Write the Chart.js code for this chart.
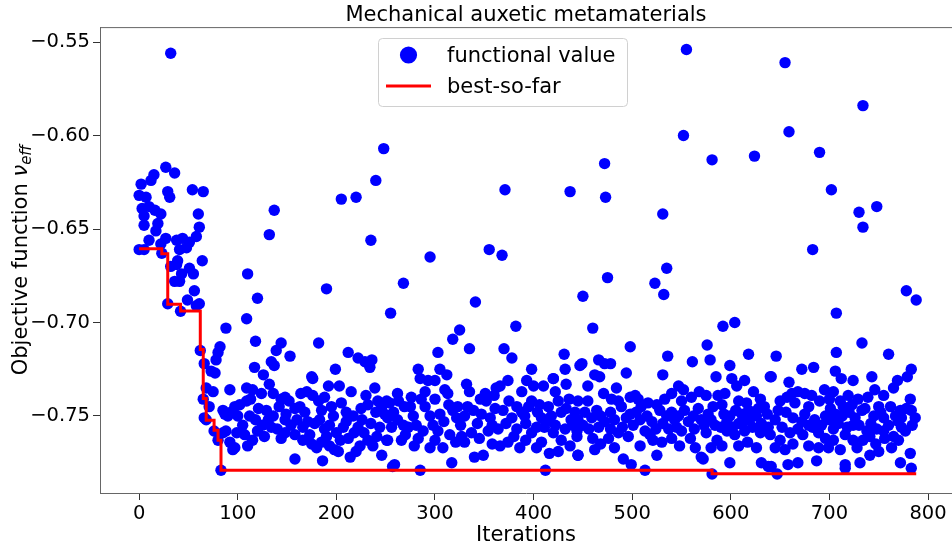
<!DOCTYPE html>
<html>
<head>
<meta charset="utf-8">
<script src="https://cdn.jsdelivr.net/npm/chart.js@4.4.1/dist/chart.umd.min.js"></script>
<style>
  html, body { margin: 0; padding: 0; background: #fff; }
  #wrap { width: 952px; height: 548px; }
</style>
</head>
<body>
<div id="wrap"><canvas id="myChart" width="952" height="548"></canvas></div>
<script>
// labels
const chartTitle = "Mechanical auxetic metamaterials";
const xAxisTitle = "Iterations";
const legendLabels = ["functional value", "best-so-far"];

// tick values
const xTicks = [0, 100, 200, 300, 400, 500, 600, 700, 800];
const yTicks = [-0.75, -0.70, -0.65, -0.60, -0.55];

// best-so-far steps (iteration, value)
const bestIter = [0, 23, 29, 42, 62, 65, 68, 76, 80, 83, 581, 788];
const bestValue = [-0.6605, -0.6632, -0.6903, -0.6939, -0.7145, -0.7407, -0.7523, -0.7577, -0.7630, -0.7790, -0.7809, -0.7809];

// functional value per evaluated design [iteration, value]
const evaluations = [
  // first iterations
  [32,-0.556],[27,-0.617],[36,-0.620],[15,-0.621],[12,-0.624],[2,-0.626],[0,-0.632],[7,-0.633],[29,-0.630],[31,-0.633],
  [54,-0.629],[65,-0.630],[3,-0.639],[10,-0.638],[16,-0.640],[22,-0.642],[5,-0.643],[60,-0.642],[5,-0.648],[19,-0.647],
  [61,-0.649],[17,-0.651],[58,-0.654],[10,-0.656],[27,-0.655],[38,-0.656],[44,-0.655],[51,-0.657],[0,-0.661],[5,-0.661],
  [22,-0.658],[41,-0.661],[48,-0.660],[23,-0.663],[39,-0.667],[64,-0.667],[32,-0.670],[38,-0.669],[51,-0.671],[43,-0.674],
  [55,-0.674],[36,-0.678],[41,-0.678],[56,-0.683],[29,-0.690],[49,-0.688],[42,-0.694],[61,-0.690],[58,-0.691],
  [88,-0.703],[62,-0.715],[82,-0.713],[80,-0.716],[78,-0.720],[66,-0.722],[73,-0.726],[77,-0.727],[68,-0.735],[75,-0.737],
  [65,-0.741],[92,-0.736],[71,-0.745],[68,-0.752],[76,-0.758],[80,-0.763],[85,-0.759],[95,-0.768],[97,-0.745],[87,-0.749],
  [102,-0.744],[105,-0.755],[109,-0.735],[110,-0.674],[109,-0.698],[83,-0.779],
  // 100 - 260
  [120,-0.687],[118,-0.710],[137,-0.640],[132,-0.653],[190,-0.682],[205,-0.634],[220,-0.633],[240,-0.624],[248,-0.607],[235,-0.656],
  [255,-0.695],[182,-0.711],[144,-0.711],[139,-0.715],[153,-0.718],[117,-0.724],[134,-0.721],[137,-0.723],[126,-0.728],[132,-0.733],
  [175,-0.729],[199,-0.725],[212,-0.716],[222,-0.719],[236,-0.720],[234,-0.724],[239,-0.735],[192,-0.734],[203,-0.734],
  [229,-0.721],[176,-0.730],[115,-0.736],[124,-0.738],[136,-0.738],[148,-0.740],[164,-0.738],[170,-0.737],[176,-0.739],[215,-0.737],
  [230,-0.739],[242,-0.742],[251,-0.742],[85,-0.747],[109,-0.742],[121,-0.746],[129,-0.747],[142,-0.745],[149,-0.749],[158,-0.746],
  [163,-0.745],[168,-0.748],[185,-0.747],[195,-0.745],[205,-0.743],[210,-0.748],[217,-0.750],[225,-0.746],[232,-0.744],[249,-0.749],
  [90,-0.750],[93,-0.748],[66,-0.751],[136,-0.750],[148,-0.752],[154,-0.755],[171,-0.753],[178,-0.754],[193,-0.755],[210,-0.753],
  [222,-0.756],[235,-0.754],[244,-0.756],[252,-0.751],[88,-0.758],[99,-0.759],[107,-0.760],[115,-0.763],[127,-0.761],[134,-0.756],
  [148,-0.759],[158,-0.760],[173,-0.760],[175,-0.765],[180,-0.767],[190,-0.761],[193,-0.766],[198,-0.768],[202,-0.769],[212,-0.762],
  [214,-0.772],[224,-0.766],[232,-0.763],[237,-0.766],[246,-0.771],[251,-0.763],[97,-0.767],[110,-0.766],[92,-0.764],[158,-0.773],
  [186,-0.774],[257,-0.777],
  [112,-0.750],[118,-0.752],[125,-0.755],[131,-0.752],[140,-0.757],[144,-0.741],[152,-0.742],[160,-0.752],[166,-0.756],[183,-0.752],
  [188,-0.757],[197,-0.750],[200,-0.759],[207,-0.756],[218,-0.759],[226,-0.752],[240,-0.748],[246,-0.745],[182,-0.742],[188,-0.740],
  [113,-0.741],[100,-0.750],[120,-0.758],[144,-0.762],[166,-0.763],[185,-0.764],[204,-0.763],[220,-0.769],[228,-0.759],[241,-0.761],
  // 260 - 450
  [325,-0.704],[318,-0.709],[382,-0.702],[303,-0.716],[335,-0.714],[370,-0.714],[378,-0.719],[431,-0.717],[447,-0.723],[283,-0.725],
  [305,-0.725],[312,-0.728],[398,-0.725],[432,-0.725],[285,-0.730],[293,-0.731],[300,-0.731],[332,-0.733],[374,-0.731],[393,-0.731],
  [420,-0.730],[433,-0.733],[290,-0.737],[310,-0.736],[313,-0.738],[335,-0.737],[351,-0.738],[362,-0.735],[366,-0.734],[388,-0.737],
  [400,-0.734],[410,-0.734],[422,-0.737],[254,-0.743],[263,-0.742],[269,-0.745],[286,-0.741],[300,-0.741],[318,-0.747],[323,-0.745],
  [339,-0.747],[352,-0.742],[361,-0.746],[369,-0.747],[383,-0.745],[388,-0.748],[398,-0.742],[406,-0.744],[415,-0.745],[425,-0.742],
  [433,-0.746],[442,-0.748],[278,-0.750],[295,-0.750],[305,-0.749],[322,-0.751],[330,-0.750],[347,-0.749],[356,-0.751],[378,-0.751],
  [391,-0.750],[408,-0.751],[418,-0.750],[438,-0.752],[256,-0.756],[273,-0.756],[288,-0.758],[303,-0.758],[315,-0.760],[327,-0.761],
  [337,-0.759],[354,-0.758],[364,-0.757],[383,-0.757],[398,-0.759],[411,-0.756],[420,-0.759],[432,-0.757],[444,-0.761],[252,-0.763],
  [266,-0.763],[279,-0.766],[295,-0.767],[308,-0.767],[330,-0.764],[340,-0.772],[349,-0.771],[366,-0.766],[386,-0.767],[408,-0.764],
  [416,-0.770],[425,-0.769],[445,-0.771],[259,-0.776],[285,-0.779],[317,-0.775],[412,-0.779],
  [371,-0.629],[355,-0.661],[368,-0.664],[295,-0.665],[268,-0.679],[341,-0.689],
  [258,-0.748],[262,-0.752],[268,-0.755],[275,-0.745],[281,-0.755],[290,-0.745],[298,-0.755],[309,-0.753],[314,-0.744],[326,-0.755],
  [333,-0.745],[343,-0.754],[346,-0.741],[358,-0.755],[360,-0.739],[372,-0.754],[375,-0.742],[380,-0.761],[392,-0.754],[395,-0.745],
  [403,-0.756],[404,-0.748],[413,-0.753],[422,-0.755],[428,-0.748],[436,-0.741],[440,-0.755],[270,-0.760],[283,-0.762],[300,-0.763],
  [321,-0.764],[345,-0.762],[358,-0.765],[374,-0.764],[392,-0.763],[403,-0.767],[428,-0.763],[437,-0.766],[262,-0.738],[276,-0.740],
  // 450 - 640
  [555,-0.554],[552,-0.600],[472,-0.615],[437,-0.630],[473,-0.633],[531,-0.642],[535,-0.671],[523,-0.679],[532,-0.685],[475,-0.676],
  [450,-0.686],[460,-0.703],[498,-0.713],[466,-0.720],[472,-0.722],[478,-0.722],[494,-0.727],[536,-0.718],[531,-0.728],[561,-0.721],
  [420,-0.730],[462,-0.728],[467,-0.729],[449,-0.722],
  [592,-0.702],[604,-0.700],[576,-0.712],[618,-0.717],[579,-0.720],[599,-0.723],[640,-0.729],[585,-0.729],[601,-0.730],[614,-0.731],
  [455,-0.734],[484,-0.735],[503,-0.739],[506,-0.741],[547,-0.734],[552,-0.736],[568,-0.737],[575,-0.739],[587,-0.739],[594,-0.738],
  [606,-0.734],[623,-0.737],[630,-0.741],[445,-0.742],[455,-0.742],[471,-0.738],[479,-0.741],[486,-0.742],[525,-0.744],[533,-0.741],
  [550,-0.742],[591,-0.744],[608,-0.742],[618,-0.747],[628,-0.746],[452,-0.748],[464,-0.747],[489,-0.745],[498,-0.749],[509,-0.745],
  [528,-0.747],[540,-0.748],[547,-0.750],[567,-0.746],[577,-0.749],[599,-0.750],[611,-0.749],[626,-0.750],[637,-0.749],[445,-0.752],
  [459,-0.751],[472,-0.753],[482,-0.752],[494,-0.751],[508,-0.752],[520,-0.753],[531,-0.754],[543,-0.752],[557,-0.753],[570,-0.752],
  [584,-0.755],[596,-0.753],[608,-0.754],[619,-0.752],[631,-0.754],[444,-0.758],[460,-0.762],[476,-0.762],[486,-0.759],[496,-0.761],
  [513,-0.758],[518,-0.760],[521,-0.763],[540,-0.762],[559,-0.762],[575,-0.759],[586,-0.763],[596,-0.758],[604,-0.760],[614,-0.758],
  [630,-0.759],[462,-0.768],[508,-0.766],[525,-0.771],[564,-0.767],[591,-0.766],[608,-0.766],[626,-0.767],[445,-0.771],[491,-0.773],
  [499,-0.776],[570,-0.772],[599,-0.775],[631,-0.775],[513,-0.779],[581,-0.781],[638,-0.777],[572,-0.773],
  [450,-0.755],[456,-0.757],[466,-0.756],[468,-0.750],[478,-0.748],[478,-0.757],[490,-0.756],[501,-0.755],[504,-0.748],[515,-0.750],
  [516,-0.743],[524,-0.757],[535,-0.750],[537,-0.757],[545,-0.756],[550,-0.758],[553,-0.747],[562,-0.750],[563,-0.757],[573,-0.755],
  [580,-0.752],[582,-0.745],[590,-0.756],[593,-0.749],[602,-0.756],[605,-0.747],[613,-0.753],[616,-0.743],[622,-0.756],[624,-0.748],
  [634,-0.745],[468,-0.765],[482,-0.767],[530,-0.764],[548,-0.766],[580,-0.767],[617,-0.764],[560,-0.740],[540,-0.738],[498,-0.740],
  // 640 - 790
  [655,-0.561],[659,-0.598],[581,-0.613],[624,-0.611],[690,-0.609],[702,-0.629],[683,-0.661],[707,-0.695],[646,-0.718],[684,-0.724],
  [707,-0.716],[672,-0.725],[706,-0.726],[712,-0.730],[641,-0.729],[659,-0.732],
  [733,-0.711],[760,-0.717],[743,-0.729],[724,-0.731],[783,-0.725],[779,-0.729],[769,-0.731],[662,-0.738],[668,-0.737],[675,-0.738],
  [682,-0.739],[690,-0.742],[695,-0.736],[704,-0.737],[711,-0.742],[719,-0.739],[729,-0.741],[739,-0.740],[746,-0.736],[755,-0.739],
  [765,-0.735],[782,-0.741],[650,-0.742],[648,-0.747],[665,-0.743],[679,-0.745],[701,-0.746],[714,-0.745],[723,-0.744],[736,-0.746],
  [750,-0.745],[772,-0.747],[783,-0.747],[663,-0.751],[675,-0.749],[685,-0.752],[696,-0.750],[706,-0.749],[726,-0.751],[745,-0.750],
  [755,-0.751],[767,-0.750],[773,-0.751],[787,-0.751],[638,-0.756],[668,-0.757],[679,-0.755],[704,-0.757],[724,-0.755],[738,-0.758],
  [755,-0.758],[773,-0.756],[777,-0.758],[640,-0.760],[650,-0.763],[663,-0.765],[689,-0.759],[696,-0.762],[716,-0.760],[724,-0.763],
  [741,-0.761],[756,-0.762],[765,-0.761],[645,-0.767],[679,-0.766],[689,-0.767],[699,-0.767],[711,-0.768],[728,-0.767],[763,-0.767],
  [687,-0.774],[741,-0.771],[750,-0.769],[782,-0.770],[772,-0.775],[716,-0.776],[731,-0.775],[658,-0.776],[668,-0.775],[641,-0.777],
  [647,-0.781],[783,-0.778],
  [734,-0.584],[730,-0.641],[748,-0.638],[734,-0.649],[778,-0.683],[788,-0.688],[716,-0.778],
  [645,-0.752],[652,-0.756],[656,-0.748],[660,-0.759],[672,-0.753],[673,-0.760],[683,-0.756],[692,-0.755],[700,-0.752],[709,-0.754],
  [713,-0.750],[718,-0.756],[720,-0.748],[730,-0.755],[733,-0.747],[742,-0.754],[748,-0.757],[752,-0.748],[760,-0.755],[762,-0.745],
  [770,-0.753],[778,-0.746],[784,-0.755],[657,-0.740],[700,-0.741],[734,-0.763],[747,-0.765],[704,-0.763],[655,-0.768],[770,-0.763]
];

const FONT = "'DejaVu Sans', 'Liberation Sans', sans-serif";
const minus = (v) => v.toFixed(2).replace("-", "\u2212");

// plugin:: top frame line, rotated y title with subscript, inner legend
const decorPlugin = {
  id: "decor",
  afterDraw(chart) {
    const { ctx, chartArea } = chart;
    ctx.save();

    // top frame line
    ctx.strokeStyle = "#666";
    ctx.lineWidth = 1;
    ctx.beginPath();
    ctx.moveTo(chartArea.left, chartArea.top + 0.5);
    ctx.lineTo(chartArea.right, chartArea.top + 0.5);
    ctx.stroke();

    // y axis title: Objective function ν_eff
    ctx.fillStyle = "#000";
    ctx.translate(22, (chartArea.top + chartArea.bottom) / 2);
    ctx.rotate(-Math.PI / 2);
    ctx.textBaseline = "middle";
    const main = "Objective function ";
    ctx.font = "21px " + FONT;
    const w1 = ctx.measureText(main).width;
    ctx.font = "italic 21px " + FONT;
    const w2 = ctx.measureText("\u03bd").width;
    ctx.font = "italic 15px " + FONT;
    const w3 = ctx.measureText("eff").width;
    let x = -(w1 + w2 + w3) / 2;
    ctx.font = "21px " + FONT;
    ctx.fillText(main, x, 0);
    x += w1;
    ctx.font = "italic 21px " + FONT;
    ctx.fillText("\u03bd", x, 0);
    x += w2;
    ctx.font = "italic 15px " + FONT;
    ctx.fillText("eff", x, 5);
    ctx.restore();

    // legend box
    ctx.save();
    const bx = 378, by = 38, bw = 249, bh = 68, r = 4;
    ctx.beginPath();
    ctx.roundRect(bx + 0.5, by + 0.5, bw, bh, r);
    ctx.fillStyle = "rgba(255,255,255,0.8)";
    ctx.fill();
    ctx.strokeStyle = "#d0d0d0";
    ctx.lineWidth = 1;
    ctx.stroke();

    ctx.fillStyle = "#0000ff";
    ctx.beginPath();
    ctx.arc(408.5, 55, 8.6, 0, Math.PI * 2);
    ctx.fill();

    ctx.strokeStyle = "#ff0000";
    ctx.lineWidth = 3;
    ctx.beginPath();
    ctx.moveTo(386, 86);
    ctx.lineTo(431, 86);
    ctx.stroke();

    ctx.fillStyle = "#000";
    ctx.font = "21px " + FONT;
    ctx.textBaseline = "alphabetic";
    ctx.fillText(legendLabels[0], 447, 62);
    ctx.fillText(legendLabels[1], 447, 93);
    ctx.restore();
  },
};

const ctx = document.getElementById("myChart");

new Chart(ctx, {
  type: "scatter",
  data: {
    datasets: [
      {
        type: "line",
        label: legendLabels[1],
        data: bestIter.map((it, i) => ({ x: it, y: bestValue[i] })),
        borderColor: "#ff0000",
        borderWidth: 3,
        pointRadius: 0,
        stepped: "before",
        fill: false,
        order: 0,
      },
      {
        label: legendLabels[0],
        data: evaluations.map(([it, v]) => ({ x: it, y: v })),
        backgroundColor: "#0000ff",
        borderWidth: 0,
        pointRadius: 5.7,
        order: 1,
      },
    ],
  },
  options: {
    responsive: false,
    animation: false,
    devicePixelRatio: 1,
    layout: { autoPadding: false, padding: { left: 0, right: 0, top: 0, bottom: 0 } },
    plugins: {
      legend: { display: false },
      tooltip: { enabled: false },
      title: {
        display: true,
        text: chartTitle,
        fullSize: false,
        color: "#000",
        font: { family: FONT, size: 21, weight: "normal", lineHeight: 1.1 },
        padding: { top: 4, bottom: 0 },
      },
    },
    scales: {
      x: {
        type: "linear",
        min: -39.7,
        max: 824.3,
        afterFit(scale) {
          scale.height = 55;
          scale.paddingLeft = 0;
          scale.paddingRight = 0;
        },
        afterBuildTicks(scale) { scale.ticks = xTicks.map((v) => ({ value: v })); },
        ticks: {
          color: "#000",
          font: { family: FONT, size: 19.5 },
          padding: 2,
          maxRotation: 0,
        },
        grid: { drawOnChartArea: false, tickLength: 7, color: "#333" },
        border: { color: "#666", width: 1 },
        title: {
          display: true,
          text: xAxisTitle,
          color: "#000",
          font: { family: FONT, size: 21 },
          padding: 0,
        },
      },
      y: {
        type: "linear",
        min: -0.7912,
        max: -0.542,
        afterFit(scale) {
          scale.width = 100;
          scale.paddingTop = 0;
          scale.paddingBottom = 0;
        },
        afterBuildTicks(scale) { scale.ticks = yTicks.map((v) => ({ value: v })); },
        ticks: {
          color: "#000",
          font: { family: FONT, size: 19.5 },
          padding: 3,
          callback: (v) => minus(v),
        },
        grid: { drawOnChartArea: false, tickLength: 7, color: "#333" },
        border: { color: "#666", width: 1 },
      },
    },
  },
  plugins: [decorPlugin],
});
</script>
</body>
</html>
